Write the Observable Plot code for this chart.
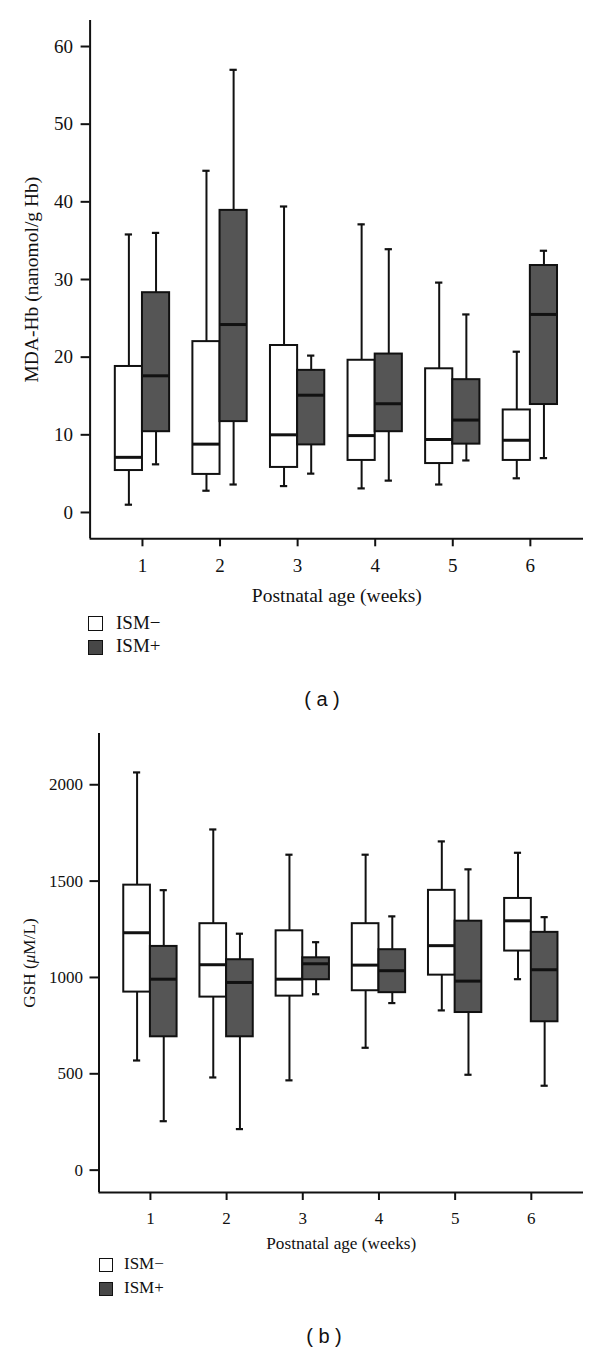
<!DOCTYPE html>
<html>
<head>
<meta charset="utf-8">
<script src="https://cdn.jsdelivr.net/npm/d3@7"></script>
<script src="https://cdn.jsdelivr.net/npm/@observablehq/plot@0.6"></script>
<style>
  html, body { margin: 0; padding: 0; background: white; }
  #root { position: relative; width: 600px; height: 1352px; background: white; overflow: hidden; }
  .chart { position: absolute; left: 0; }
  .chart text, .chart tspan { font-family: "Liberation Serif", "Times New Roman", serif !important; font-variant: normal !important; }
  .legend { position: absolute; font-family: "Liberation Serif", serif; color: #111; }
  .legend .sw { position: absolute; left: 0; box-sizing: border-box; border: 1.5px solid #111; }
  .legend .lab { position: absolute; white-space: nowrap; }
  .caption { position: absolute; font-family: "Liberation Sans", Arial, sans-serif; color: #111; transform: translate(-50%, -50%); white-space: pre; }
</style>
</head>
<body>
<div id="root"></div>
<script>
// ---------------- data ----------------
const weeks = [1, 2, 3, 4, 5, 6];
const groups = ["ISM−", "ISM+"];
const xLabel = "Postnatal age (weeks)";

// (a) MDA-Hb (nanomol/g Hb)
const mdaLabel = "MDA-Hb (nanomol/g Hb)";
const mdaTicks = [0, 10, 20, 30, 40, 50, 60];
const mdaMinusMin = [1.0, 2.8, 3.4, 3.1, 3.6, 4.4];
const mdaMinusQ1  = [5.4, 4.9, 5.8, 6.7, 6.3, 6.7];
const mdaMinusMed = [7.1, 8.8, 10.0, 9.9, 9.4, 9.3];
const mdaMinusQ3  = [18.8, 22.0, 21.5, 19.6, 18.5, 13.2];
const mdaMinusMax = [35.8, 44.0, 39.4, 37.1, 29.6, 20.7];
const mdaPlusMin  = [6.2, 3.6, 5.0, 4.1, 6.7, 7.0];
const mdaPlusQ1   = [10.4, 11.7, 8.7, 10.4, 8.8, 13.9];
const mdaPlusMed  = [17.6, 24.2, 15.1, 14.0, 11.9, 25.5];
const mdaPlusQ3   = [28.3, 38.9, 18.3, 20.4, 17.1, 31.8];
const mdaPlusMax  = [36.0, 57.0, 20.2, 33.9, 25.5, 33.7];

// (b) GSH (µM/L)
const gshLabel = "GSH (μM/L)";
const gshTicks = [0, 500, 1000, 1500, 2000];
const gshMinusMin = [569, 481, 466, 635, 829, 991];
const gshMinusQ1  = [924, 898, 903, 931, 1012, 1137];
const gshMinusMed = [1232, 1066, 991, 1064, 1165, 1294];
const gshMinusQ3  = [1479, 1279, 1242, 1279, 1452, 1410];
const gshMinusMax = [2064, 1768, 1637, 1637, 1706, 1647];
const gshPlusMin  = [254, 213, 913, 867, 495, 438];
const gshPlusQ1   = [692, 692, 988, 921, 818, 770];
const gshPlusMed  = [991, 974, 1071, 1035, 981, 1040];
const gshPlusQ3   = [1161, 1092, 1102, 1144, 1292, 1234];
const gshPlusMax  = [1453, 1227, 1183, 1317, 1561, 1313];

// ---------------- build ----------------
function buildRows(minus, plus) {
  const rows = [];
  weeks.forEach((w, i) => {
    rows.push({week: w, group: groups[0], min: minus[0][i], q1: minus[1][i], median: minus[2][i], q3: minus[3][i], max: minus[4][i]});
    rows.push({week: w, group: groups[1], min: plus[0][i], q1: plus[1][i], median: plus[2][i], q3: plus[3][i], max: plus[4][i]});
  });
  return rows;
}
const mdaRows = buildRows(
  [mdaMinusMin, mdaMinusQ1, mdaMinusMed, mdaMinusQ3, mdaMinusMax],
  [mdaPlusMin, mdaPlusQ1, mdaPlusMed, mdaPlusQ3, mdaPlusMax]);
const gshRows = buildRows(
  [gshMinusMin, gshMinusQ1, gshMinusMed, gshMinusQ3, gshMinusMax],
  [gshPlusMin, gshPlusQ1, gshPlusMed, gshPlusQ3, gshPlusMax]);

const xDomain = [0.325, 6.685];
const BW = 0.35;    // box width (x units)
const CAP = 0.047;  // half cap width
const left = d => d.group === groups[0] ? d.week - BW : d.week;
const right = d => d.group === groups[0] ? d.week : d.week + BW;
const mid = d => (left(d) + right(d)) / 2;
const SERIF = "'Liberation Serif', 'Times New Roman', serif";

function boxChart(o) {
  const svg = Plot.plot({
    width: 600,
    height: o.height,
    marginLeft: o.marginLeft,
    marginRight: 17,
    marginTop: o.marginTop,
    marginBottom: o.marginBottom,
    style: {fontFamily: SERIF, fontSize: o.tickSize + "px", color: "#111", background: "white", overflow: "visible"},
    x: {domain: xDomain},
    y: {domain: o.yDomain},
    color: {domain: groups, range: ["#ffffff", "#555555"]},
    marks: [
      Plot.axisX({ticks: weeks, tickFormat: d => String(d), tickSize: 8, tickPadding: o.xTickPad, strokeWidth: 2,
        label: xLabel, labelAnchor: "center", labelOffset: o.xLabelOffset, labelArrow: "none"}),
      Plot.axisY({ticks: o.yTicks, tickFormat: d => String(d), tickSize: 9, tickPadding: o.yTickPad, strokeWidth: 2,
        label: o.yLabel, labelAnchor: "center", labelOffset: o.yLabelOffset, labelArrow: "none"}),
      Plot.ruleX([xDomain[0]], {strokeWidth: 2, stroke: "#111"}),
      Plot.ruleY([o.yDomain[0]], {strokeWidth: 2, stroke: "#111"}),
      Plot.ruleX(o.rows, {x: mid, y1: "min", y2: "max", strokeWidth: 2, stroke: "#111"}),
      Plot.ruleY(o.rows, {y: "min", x1: d => mid(d) - CAP, x2: d => mid(d) + CAP, strokeWidth: 2.2, stroke: "#111"}),
      Plot.ruleY(o.rows, {y: "max", x1: d => mid(d) - CAP, x2: d => mid(d) + CAP, strokeWidth: 2.2, stroke: "#111"}),
      Plot.rect(o.rows, {x1: left, x2: right, y1: "q1", y2: "q3", fill: "group", stroke: "#111", strokeWidth: 2}),
      Plot.ruleY(o.rows, {y: "median", x1: left, x2: right, strokeWidth: 3, stroke: "#111"})
    ]
  });
  const s = d3.select(svg);
  s.selectAll("text").style("font-family", SERIF).style("fill", "#111");
  s.selectAll('[aria-label="x-axis tick label"], [aria-label="y-axis tick label"]')
    .attr("font-size", o.tickSize).attr("font-family", SERIF).attr("font-variant", null)
    .style("font-size", o.tickSize + "px");
  s.selectAll('[aria-label="x-axis tick label"] text, [aria-label="y-axis tick label"] text')
    .style("font-size", o.tickSize + "px");
  s.selectAll('[aria-label="x-axis label"], [aria-label="y-axis label"]')
    .attr("font-size", o.titleSize).attr("font-family", SERIF)
    .style("font-size", o.titleSize + "px");
  s.selectAll('[aria-label="x-axis label"] text, [aria-label="y-axis label"] text')
    .style("font-size", o.titleSize + "px");
  return svg;
}

const root = document.getElementById("root");
function place(el, top) {
  el.classList.add("chart");
  el.style.top = top + "px";
  root.appendChild(el);
}

const chartA = boxChart({
  rows: mdaRows, height: 620, marginLeft: 89.6, marginTop: 20, marginBottom: 620 - 538.3,
  yDomain: [-3.39, 63.35], yTicks: mdaTicks, yLabel: mdaLabel, tickSize: 19, titleSize: 19.5,
  xTickPad: 12, yTickPad: 8, xLabelOffset: 63, yLabelOffset: 66
});
place(chartA, 0);

const chartB = boxChart({
  rows: gshRows, height: 560, marginLeft: 98.5, marginTop: 23, marginBottom: 710 + 560 - 1192,
  yDomain: [-116, 2266], yTicks: gshTicks, yLabel: gshLabel, tickSize: 17, titleSize: 17.2,
  xTickPad: 11, yTickPad: 7, xLabelOffset: 56, yLabelOffset: 76
});
place(chartB, 710);

// italic mu in the GSH label
d3.select(chartB).selectAll("text").each(function () {
  if (this.textContent === gshLabel) {
    const t = d3.select(this);
    t.text(null);
    t.append("tspan").text("GSH (");
    t.append("tspan").attr("font-style", "italic").text("μ");
    t.append("tspan").text("M/L)");
  }
});

function legend(top, leftX, fontSize, sw, gap, textX) {
  const div = document.createElement("div");
  div.className = "legend";
  div.style.top = top + "px";
  div.style.left = leftX + "px";
  div.style.fontSize = fontSize + "px";
  const fills = ["#ffffff", "#474747"];
  groups.forEach((g, i) => {
    const s = document.createElement("div");
    s.className = "sw";
    s.style.top = (i * gap) + "px";
    s.style.width = sw + "px";
    s.style.height = sw + "px";
    s.style.background = fills[i];
    div.appendChild(s);
    const l = document.createElement("div");
    l.className = "lab";
    l.textContent = g;
    l.style.left = textX + "px";
    l.style.top = (i * gap + sw / 2 - fontSize * 0.62) + "px";
    l.style.lineHeight = "1.15";
    div.appendChild(l);
  });
  root.appendChild(div);
}
legend(616, 88, 19, 15, 23.5, 28);
legend(1258, 99, 17, 14, 24, 25);

function caption(text, x, y) {
  const c = document.createElement("div");
  c.className = "caption";
  c.textContent = text;
  c.style.left = x + "px";
  c.style.top = y + "px";
  c.style.fontSize = "20px";
  root.appendChild(c);
}
caption("( a )", 322, 699);
caption("( b )", 324, 1336);
</script>
</body>
</html>
